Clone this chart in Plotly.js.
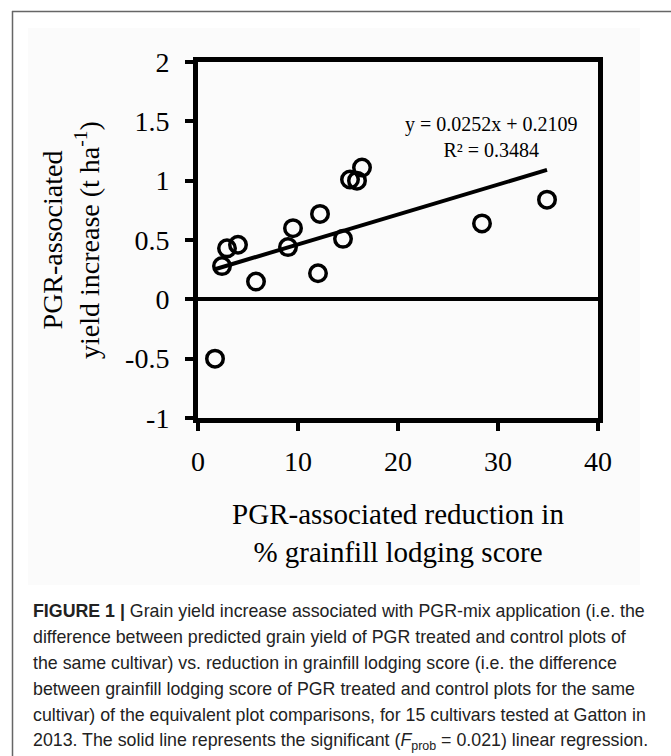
<!DOCTYPE html>
<html>
<head>
<meta charset="utf-8">
<script src="https://cdn.plot.ly/plotly-3.0.1.min.js"></script>
<style>
  html, body { margin: 0; padding: 0; background: #ffffff; }
  #chart { width: 671px; height: 756px; }
</style>
</head>
<body>
<div id="chart"></div>
<script>
// ---- data ----
const lodgingReduction = [1.7, 2.4, 2.9, 4.0, 5.8, 9.0, 9.5, 12.0, 12.2, 14.5, 15.2, 15.9, 16.4, 28.4, 34.9];
const yieldIncrease    = [-0.50, 0.28, 0.43, 0.46, 0.15, 0.44, 0.60, 0.22, 0.72, 0.51, 1.01, 1.00, 1.11, 0.64, 0.84];
const regSlope = [0.0252];
const regIntercept = [0.2109];
const rSquared = [0.3484];
const xTickVals = [0, 10, 20, 30, 40];
const xTickText = ["0", "10", "20", "30", "40"];
const yTickVals = [2, 1.5, 1, 0.5, 0, -0.5, -1];
const yTickText = ["2", "1.5", "1", "0.5", "0", "-0.5", "-1"];
const captionLines = [
  "<b>FIGURE 1 |</b> Grain yield increase associated with PGR-mix application (i.e. the",
  "difference between predicted grain yield of PGR treated and control plots of",
  "the same cultivar) vs. reduction in grainfill lodging score (i.e. the difference",
  "between grainfill lodging score of PGR treated and control plots for the same",
  "cultivar) of the equivalent plot comparisons, for 15 cultivars tested at Gatton in",
  "2013. The solid line represents the significant (<i>F</i><sub>prob</sub> = 0.021) linear regression."
];

// ---- layout geometry (pixels) ----
const FIG_W = 671, FIG_H = 756;
const L = 198, T = 62, R = 73, B = 338;
const PW = FIG_W - L - R, PH = FIG_H - T - B;
const px2x = px => (px - L) / PW;
const py2y = py => (T + PH - py) / PH;

// regression line from the coefficients over the data span
const xMin = Math.min(...lodgingReduction), xMax = Math.max(...lodgingReduction);
const regX = [xMin, xMax];
const regY = regX.map(v => regSlope[0] * v + regIntercept[0]);

const serif = "Liberation Serif, Times New Roman, serif";
const sans = "Liberation Sans, Arial, sans-serif";

const traces = [
  {
    x: regX, y: regY, type: 'scatter', mode: 'lines',
    line: { color: '#000', width: 4 }, hoverinfo: 'skip', showlegend: false
  },
  {
    x: lodgingReduction, y: yieldIncrease, type: 'scatter', mode: 'markers',
    marker: { symbol: 'circle-open', size: 16.5, color: '#000', line: { color: '#000', width: 3.5 } },
    showlegend: false
  }
];

const annotations = [
  {
    xref: 'paper', yref: 'paper', x: px2x(491), y: py2y(137),
    xanchor: 'center', yanchor: 'middle', showarrow: false, align: 'center',
    text: 'y = ' + regSlope[0].toFixed(4) + 'x + ' + regIntercept[0].toFixed(4) + '<br>R² = ' + rSquared[0].toFixed(4),
    font: { family: serif, size: 20, color: '#000' }
  }
];
const capTop = 611, capStep = 26;
captionLines.forEach((t, i) => {
  annotations.push({
    xref: 'paper', yref: 'paper', x: px2x(31), y: py2y(capTop + i * capStep),
    xanchor: 'left', yanchor: 'middle', showarrow: false, align: 'left',
    text: t, font: { family: sans, size: 17.8, color: '#222' }
  });
});

const shapes = [
  // frame lines
  { type: 'line', xref: 'paper', yref: 'paper', x0: px2x(12), x1: px2x(671), y0: py2y(11.5), y1: py2y(11.5),
    line: { color: '#666', width: 1.5 } },
  { type: 'line', xref: 'paper', yref: 'paper', x0: px2x(12.5), x1: px2x(12.5), y0: py2y(11), y1: py2y(756),
    line: { color: '#666', width: 1.5 } },
  // subtle off-white chart image background
  { type: 'rect', xref: 'paper', yref: 'paper', layer: 'below',
    x0: px2x(28), x1: px2x(640), y0: py2y(28), y1: py2y(585),
    fillcolor: '#fbfbfb', line: { width: 0 } }
];

const layout = {
  width: FIG_W, height: FIG_H,
  margin: { l: L, r: R, t: T, b: B, pad: 0 },
  paper_bgcolor: '#ffffff', plot_bgcolor: 'rgba(0,0,0,0)',
  showlegend: false,
  font: { family: serif, color: '#000' },
  xaxis: {
    range: [0, 40], tickvals: xTickVals, ticktext: xTickText,
    showgrid: false, zeroline: false,
    showline: true, linecolor: '#000', linewidth: 5, mirror: true,
    ticks: 'outside', ticklen: 8, tickwidth: 4, tickcolor: '#000',
    ticklabelstandoff: 6,
    tickfont: { family: serif, size: 28, color: '#000' },
    title: { text: 'PGR-associated reduction in<br>% grainfill lodging score',
             font: { family: serif, size: 29, color: '#000' }, standoff: 30 }
  },
  yaxis: {
    range: [-1, 2], tickvals: yTickVals, ticktext: yTickText,
    showgrid: false,
    zeroline: true, zerolinecolor: '#000', zerolinewidth: 4,
    showline: true, linecolor: '#000', linewidth: 5, mirror: true,
    ticks: 'outside', ticklen: 8, tickwidth: 4, tickcolor: '#000',
    ticklabelstandoff: 10,
    tickfont: { family: serif, size: 28, color: '#000' },
    title: { text: 'PGR-associated<br>yield increase (t ha<sup>-1</sup>)',
             font: { family: serif, size: 28, color: '#000' }, standoff: 19 }
  },
  annotations: annotations,
  shapes: shapes
};

Plotly.newPlot('chart', traces, layout, { displayModeBar: false, staticPlot: true });
</script>
</body>
</html>
